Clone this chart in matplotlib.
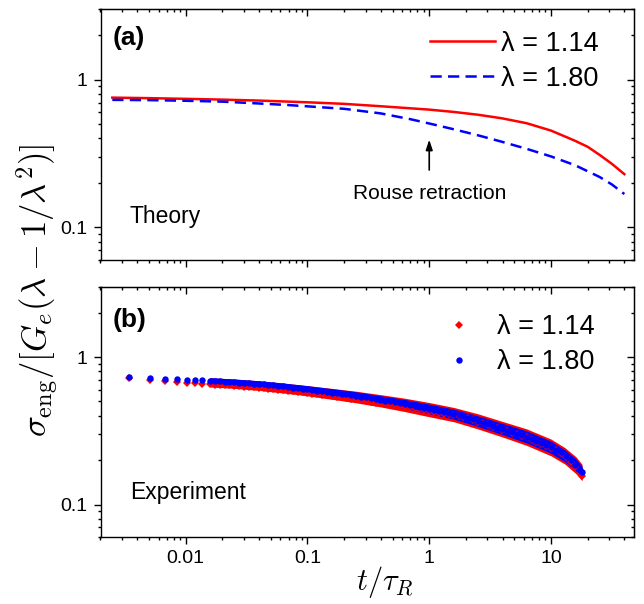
import numpy as np
import matplotlib.pyplot as plt
from matplotlib.ticker import LogLocator, FuncFormatter, NullFormatter

plt.rcParams['font.family'] = ['Liberation Sans', 'DejaVu Sans']
plt.rcParams['mathtext.fontset'] = 'cm'

# (a) theory curves
t_th_114 = [0.0025, 0.005, 0.01, 0.02, 0.04, 0.1, 0.2, 0.4, 1, 1.58, 2.51, 3.98, 6.31, 10,
            12.6, 15.8, 20, 25.1, 31.6, 40]
s_th_114 = [0.756, 0.75, 0.742, 0.733, 0.722, 0.703, 0.686, 0.661, 0.627, 0.605, 0.579, 0.547,
            0.507, 0.452, 0.417, 0.385, 0.351, 0.309, 0.269, 0.229]
t_th_180 = [0.0025, 0.005, 0.01, 0.02, 0.04, 0.07, 0.1, 0.2, 0.4, 0.7, 1, 1.58, 2.51, 3.98,
            6.31, 10, 15.8, 25.1, 31.6, 40]
s_th_180 = [0.73, 0.727, 0.72, 0.71, 0.69, 0.673, 0.66, 0.635, 0.591, 0.54, 0.505, 0.462,
            0.420, 0.379, 0.340, 0.302, 0.263, 0.219, 0.195, 0.168]

# (b) experiment, single points
t_exp = [0.0034, 0.0051, 0.0068, 0.0085, 0.0102, 0.0119, 0.0136,
         0.0158, 0.0174, 0.0191, 0.0209, 0.0229, 0.0251, 0.0275, 0.0302, 0.0331, 0.0363,
         0.0398, 0.0437, 0.0479, 0.0525, 0.0575, 0.0631, 0.0692, 0.0759, 0.0832, 0.0912,
         0.100, 0.110, 0.120, 0.132, 0.145, 0.158, 0.174, 0.191, 0.209, 0.229,
         0.251, 0.275, 0.302, 0.331, 0.363, 0.398, 0.437, 0.479, 0.525, 0.575,
         0.631, 0.692, 0.759, 0.832, 0.912, 1.00, 1.10, 1.20, 1.32, 1.45,
         1.58, 1.74, 1.91, 2.09, 2.29, 2.51, 2.75, 3.02, 3.31, 3.63,
         3.98, 4.37, 4.79, 5.25, 5.75, 6.31, 6.92, 7.59, 8.32, 9.12,
         10.0, 11.0, 12.0, 13.2, 14.5, 15.8, 17.4, 18.0]
s_exp_180 = [0.731, 0.721, 0.714, 0.709, 0.704, 0.699, 0.695,
             0.690, 0.687, 0.684, 0.682, 0.679, 0.676, 0.672, 0.668, 0.664, 0.660,
             0.656, 0.652, 0.648, 0.643, 0.637, 0.632, 0.626, 0.621, 0.616, 0.610,
             0.605, 0.599, 0.593, 0.587, 0.581, 0.575, 0.569, 0.564, 0.558, 0.552,
             0.547, 0.540, 0.533, 0.526, 0.519, 0.513, 0.506, 0.500, 0.493, 0.487,
             0.481, 0.473, 0.466, 0.459, 0.452, 0.445, 0.437, 0.430, 0.423, 0.417,
             0.410, 0.403, 0.397, 0.388, 0.378, 0.368, 0.359, 0.350, 0.341, 0.333,
             0.325, 0.317, 0.310, 0.303, 0.295, 0.288, 0.279, 0.270, 0.262, 0.254,
             0.245, 0.236, 0.226, 0.214, 0.200, 0.186, 0.171, 0.166]
s_exp_114 = [0.724, 0.696, 0.689, 0.681, 0.672, 0.666, 0.660,
             0.652, 0.649, 0.646, 0.644, 0.642, 0.639, 0.635, 0.631, 0.627, 0.624,
             0.620, 0.616, 0.612, 0.608, 0.602, 0.597, 0.592, 0.587, 0.582, 0.576,
             0.572, 0.566, 0.560, 0.555, 0.549, 0.543, 0.538, 0.533, 0.527, 0.522,
             0.517, 0.510, 0.504, 0.498, 0.492, 0.487, 0.482, 0.477, 0.472, 0.467,
             0.462, 0.456, 0.450, 0.444, 0.438, 0.433, 0.426, 0.420, 0.414, 0.409,
             0.403, 0.397, 0.392, 0.384, 0.374, 0.364, 0.355, 0.347, 0.338, 0.330,
             0.322, 0.314, 0.307, 0.300, 0.292, 0.285, 0.276, 0.267, 0.259, 0.251,
             0.243, 0.234, 0.224, 0.211, 0.195, 0.180, 0.163, 0.156]

# (b) experiment, edges of the dense scatter band
t_band = [0.0158, 0.025, 0.04, 0.063, 0.1, 0.16, 0.25, 0.4, 0.63, 1.0, 1.6, 2.5, 4.0, 6.3,
          10, 13, 16, 18]
hi_180 = [0.725, 0.710, 0.691, 0.667, 0.640, 0.610, 0.582, 0.547, 0.516, 0.480, 0.443, 0.400,
          0.355, 0.316, 0.269, 0.235, 0.204, 0.181]
lo_180 = [0.657, 0.643, 0.623, 0.598, 0.572, 0.542, 0.514, 0.481, 0.448, 0.413, 0.379, 0.339,
          0.298, 0.262, 0.223, 0.195, 0.169, 0.152]
hi_114 = [0.725, 0.710, 0.691, 0.667, 0.640, 0.613, 0.587, 0.556, 0.526, 0.492, 0.455, 0.413,
          0.366, 0.326, 0.278, 0.243, 0.211, 0.187]
lo_114 = [0.627, 0.614, 0.594, 0.571, 0.546, 0.517, 0.490, 0.459, 0.427, 0.394, 0.364, 0.326,
          0.287, 0.252, 0.214, 0.188, 0.162, 0.145]

fig = plt.figure(figsize=(6.44, 6.04), dpi=100)
ax1 = fig.add_axes([100.5/644, 1-260/604, 533.5/644, 250.7/604])
ax2 = fig.add_axes([100.5/644, 1-537.3/604, 533.5/644, 250.6/604])

fmt = FuncFormatter(lambda v, p: f"{v:g}")


def style(ax, xlabels):
    ax.set_xscale('log')
    ax.set_yscale('log')
    ax.set_xlim(0.002, 48)
    ax.set_ylim(0.06, 3)
    for a in (ax.xaxis, ax.yaxis):
        a.set_major_locator(LogLocator(base=10))
        a.set_minor_locator(LogLocator(base=10, subs=np.arange(2, 10)))
        a.set_major_formatter(fmt)
        a.set_minor_formatter(NullFormatter())
    ax.tick_params(which='both', direction='out', labelsize=14, width=1, pad=4.5)
    ax.tick_params(which='major', length=4.8)
    ax.tick_params(which='minor', length=2.4)
    if not xlabels:
        ax.tick_params(axis='x', labelbottom=False)
    for s in ax.spines.values():
        s.set_linewidth(1)
    top = ax.secondary_xaxis('top')
    right = ax.secondary_yaxis('right')
    for sec, a in ((top, top.xaxis), (right, right.yaxis)):
        a.set_major_locator(LogLocator(base=10))
        a.set_minor_locator(LogLocator(base=10, subs=np.arange(2, 10)))
        a.set_major_formatter(NullFormatter())
        a.set_minor_formatter(NullFormatter())
        sec.tick_params(which='both', direction='in', width=1)
        sec.tick_params(which='major', length=4.8)
        sec.tick_params(which='minor', length=2.4)


style(ax1, False)
style(ax2, True)

ax1.plot(t_th_114, s_th_114, color='#ff0000', lw=1.8, label='λ = 1.14')
ax1.plot(t_th_180, s_th_180, color='#0000ff', lw=1.8, dashes=(4.5, 2.5), label='λ = 1.80')
ax1.legend(loc='upper right', bbox_to_anchor=(0.934, 0.915), frameon=False, fontsize=19.5,
           handlelength=2.4, handletextpad=0.22, borderpad=0, borderaxespad=0, labelspacing=0.34)
ax1.text(0.0234, 0.886, '(a)', transform=ax1.transAxes, fontsize=19, fontweight='bold', va='center')
ax1.text(0.055, 0.149, 'Theory', transform=ax1.transAxes, fontsize=16.5, va='baseline')
ax1.annotate('', xy=(1.0, 0.41), xytext=(1.0, 0.234),
             arrowprops=dict(arrowstyle='-|>,head_length=0.6,head_width=0.2', color='black', lw=1.2))
ax1.text(1.0, 0.155, 'Rouse retraction', fontsize=15, ha='center', va='baseline')

ax2.fill_between(t_band, lo_114, hi_114, color='#ff0000', lw=0)
ax2.plot(t_exp, s_exp_114, 'D', color='#ff0000', ms=4.4, mew=0, label='λ = 1.14')
ax2.fill_between(t_band, lo_180, hi_180, color='#0000ff', lw=0)
ax2.plot(t_exp, s_exp_180, 'o', color='#0000ff', ms=4.6, mew=0, label='λ = 1.80')
ax2.legend(loc='upper right', bbox_to_anchor=(0.927, 0.891), frameon=False, fontsize=19.5,
           handlelength=2.4, handletextpad=0.22, borderpad=0, borderaxespad=0, labelspacing=0.34)
ax2.text(0.0234, 0.867, '(b)', transform=ax2.transAxes, fontsize=19, fontweight='bold', va='center')
ax2.text(0.055, 0.153, 'Experiment', transform=ax2.transAxes, fontsize=16.5, va='baseline')

fig.text(37/644, 1-290/604, r'$\sigma_{\rm eng}/[G_e(\lambda-1/\lambda^2)]$', rotation=90,
         fontsize=25, ha='center', va='center')
fig.text(385/644, 1-582/604, r'$t/\tau_R$', fontsize=22, ha='center', va='center')

fig.savefig('out.png', dpi=100)
